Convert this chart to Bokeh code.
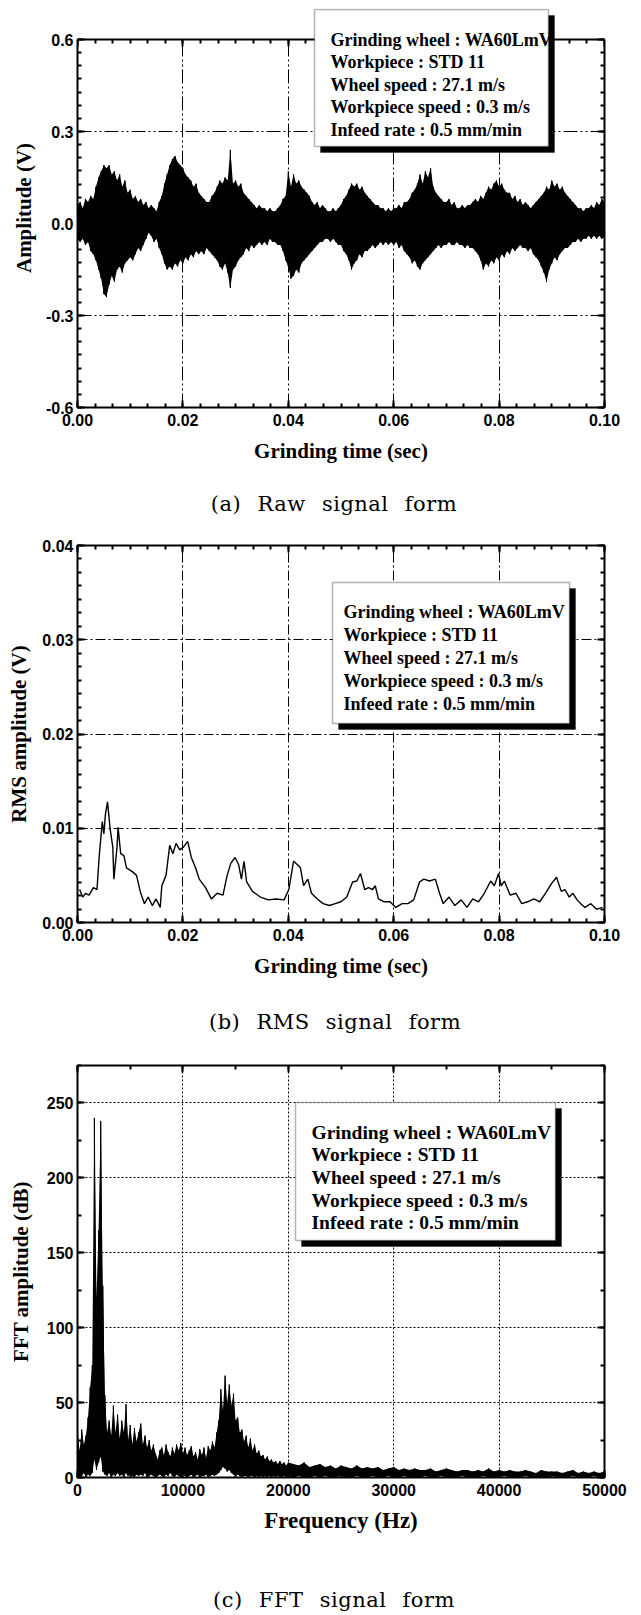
from bokeh.plotting import figure
from bokeh.models import (LinearAxis, SingleIntervalTicker, NumeralTickFormatter,
                          BoxAnnotation, Label, Range1d, Div)
from bokeh.layouts import column
from bokeh.embed import file_html
from bokeh.resources import INLINE

# ---------------- data ----------------
legend_lines = [
    "Grinding wheel : WA60LmV",
    "Workpiece : STD 11",
    "Wheel speed : 27.1 m/s",
    "Workpiece speed : 0.3 m/s",
    "Infeed rate : 0.5 mm/min",
]
captions = ["(a) Raw signal form", "(b) RMS signal form", "(c) FFT signal form"]

# (a) raw signal: envelope read every 0.5 ms (V)
raw_step = 0.0005
raw_upper = [
    0.06, 0.07, 0.05, 0.08, 0.07, 0.09, 0.08, 0.12, 0.15, 0.17,
    0.19, 0.18, 0.19, 0.16, 0.17, 0.14, 0.16, 0.12, 0.14, 0.10,
    0.11, 0.08, 0.09, 0.07, 0.08, 0.06, 0.07, 0.05, 0.06, 0.05,
    0.04, 0.07, 0.09, 0.13, 0.16, 0.19, 0.21, 0.22, 0.20, 0.19,
    0.18, 0.16, 0.15, 0.14, 0.12, 0.13, 0.10, 0.09, 0.08, 0.07,
    0.07, 0.09, 0.10, 0.12, 0.14, 0.13, 0.15, 0.14, 0.24, 0.13,
    0.14, 0.12, 0.13, 0.10, 0.09, 0.08, 0.07, 0.06, 0.05, 0.06,
    0.05, 0.05, 0.04, 0.05, 0.04, 0.04, 0.05, 0.06, 0.08, 0.09,
    0.17, 0.12, 0.16, 0.13, 0.14, 0.12, 0.11, 0.10, 0.09, 0.07,
    0.06, 0.07, 0.05, 0.06, 0.05, 0.04, 0.04, 0.05, 0.04, 0.05,
    0.06, 0.08, 0.09, 0.11, 0.13, 0.12, 0.13, 0.11, 0.12, 0.10,
    0.09, 0.08, 0.07, 0.06, 0.06, 0.05, 0.05, 0.04, 0.05, 0.04,
    0.05, 0.05, 0.06, 0.05, 0.07, 0.07, 0.08, 0.10, 0.11, 0.13,
    0.16, 0.13, 0.17, 0.15, 0.18, 0.12, 0.10, 0.09, 0.08, 0.07,
    0.07, 0.08, 0.06, 0.07, 0.05, 0.05, 0.06, 0.05, 0.06, 0.06,
    0.07, 0.08, 0.07, 0.09, 0.08, 0.10, 0.12, 0.11, 0.13, 0.14,
    0.12, 0.13, 0.11, 0.10, 0.10, 0.08, 0.09, 0.07, 0.08, 0.06,
    0.07, 0.06, 0.05, 0.06, 0.07, 0.08, 0.09, 0.10, 0.12, 0.11,
    0.14, 0.12, 0.13, 0.11, 0.12, 0.10, 0.09, 0.08, 0.07, 0.06,
    0.05, 0.05, 0.04, 0.05, 0.05, 0.06, 0.05, 0.07, 0.06, 0.08,
    0.07,
]
raw_lower = [
    -0.05, -0.06, -0.05, -0.07, -0.06, -0.09, -0.10, -0.12, -0.15, -0.18,
    -0.23, -0.24, -0.20, -0.17, -0.19, -0.15, -0.14, -0.16, -0.13, -0.12,
    -0.11, -0.12, -0.10, -0.08, -0.09, -0.07, -0.05, -0.03, -0.04, -0.06,
    -0.05, -0.08, -0.10, -0.13, -0.15, -0.14, -0.15, -0.13, -0.14, -0.12,
    -0.13, -0.11, -0.12, -0.10, -0.11, -0.09, -0.10, -0.09, -0.10, -0.08,
    -0.09, -0.10, -0.11, -0.12, -0.14, -0.15, -0.13, -0.16, -0.21, -0.15,
    -0.14, -0.12, -0.11, -0.10, -0.08, -0.09, -0.07, -0.08, -0.07, -0.06,
    -0.07, -0.06, -0.07, -0.05, -0.06, -0.06, -0.07, -0.07, -0.09, -0.12,
    -0.14, -0.18, -0.17, -0.15, -0.16, -0.13, -0.12, -0.11, -0.10, -0.09,
    -0.08, -0.07, -0.06, -0.06, -0.05, -0.05, -0.06, -0.05, -0.06, -0.07,
    -0.07, -0.09, -0.10, -0.12, -0.15, -0.13, -0.12, -0.10, -0.11, -0.09,
    -0.09, -0.08, -0.07, -0.08, -0.07, -0.06, -0.07, -0.06, -0.07, -0.06,
    -0.07, -0.06, -0.08, -0.07, -0.09, -0.10, -0.11, -0.13, -0.12, -0.14,
    -0.15, -0.13, -0.12, -0.11, -0.10, -0.09, -0.08, -0.07, -0.08, -0.07,
    -0.07, -0.06, -0.07, -0.07, -0.06, -0.07, -0.07, -0.08, -0.07, -0.08,
    -0.08, -0.09, -0.10, -0.12, -0.15, -0.13, -0.14, -0.12, -0.13, -0.11,
    -0.12, -0.10, -0.11, -0.09, -0.10, -0.08, -0.09, -0.08, -0.07, -0.08,
    -0.08, -0.09, -0.08, -0.10, -0.11, -0.12, -0.14, -0.16, -0.19, -0.15,
    -0.13, -0.11, -0.12, -0.10, -0.09, -0.08, -0.08, -0.07, -0.06, -0.06,
    -0.05, -0.06, -0.05, -0.05, -0.04, -0.05, -0.04, -0.05, -0.04, -0.05,
    -0.04,
]
raw_time = [i * raw_step for i in range(len(raw_upper))]

# (b) RMS signal
rms_time = [
    0.0004, 0.0010, 0.0015, 0.0022, 0.0030, 0.0037, 0.0041, 0.0047, 0.0050, 0.0053,
    0.0057, 0.0062, 0.0067, 0.0069, 0.0075, 0.0077, 0.0082, 0.0088, 0.0093, 0.0104,
    0.0112, 0.0119, 0.0127, 0.0134, 0.0142, 0.0149, 0.0157, 0.0160, 0.0168, 0.0175,
    0.0181, 0.0187, 0.0194, 0.0201, 0.0209, 0.0216, 0.0224, 0.0231, 0.0243, 0.0254,
    0.0265, 0.0276, 0.0284, 0.0291, 0.0299, 0.0306, 0.0311, 0.0316, 0.0321, 0.0332,
    0.0347, 0.0362, 0.0377, 0.0392, 0.0401, 0.0410, 0.0418, 0.0423, 0.0429, 0.0437,
    0.0444, 0.0455, 0.0466, 0.0478, 0.0489, 0.0500, 0.0511, 0.0522, 0.0530, 0.0537,
    0.0545, 0.0552, 0.0560, 0.0565, 0.0571, 0.0582, 0.0593, 0.0604, 0.0616, 0.0627,
    0.0638, 0.0649, 0.0657, 0.0668, 0.0679, 0.0687, 0.0694, 0.0705, 0.0716, 0.0728,
    0.0739, 0.0750, 0.0761, 0.0772, 0.0784, 0.0791, 0.0799, 0.0804, 0.0810, 0.0821,
    0.0832, 0.0843, 0.0854, 0.0866, 0.0877, 0.0888, 0.0899, 0.0909, 0.0918, 0.0925,
    0.0933, 0.0940, 0.0948, 0.0955, 0.0963, 0.0974, 0.0985, 0.0996,
]
rms_amp = [
    0.0035, 0.0027, 0.0031, 0.0029, 0.0037, 0.0035, 0.0069, 0.0107, 0.0094, 0.0115,
    0.0128, 0.0099, 0.0080, 0.0046, 0.0080, 0.0101, 0.0073, 0.0071, 0.0058, 0.0054,
    0.0050, 0.0033, 0.0020, 0.0027, 0.0018, 0.0025, 0.0016, 0.0039, 0.0050, 0.0082,
    0.0073, 0.0084, 0.0077, 0.0080, 0.0086, 0.0069, 0.0058, 0.0046, 0.0037, 0.0025,
    0.0031, 0.0029, 0.0050, 0.0063, 0.0069, 0.0061, 0.0046, 0.0065, 0.0043, 0.0033,
    0.0027, 0.0024, 0.0025, 0.0024, 0.0035, 0.0065, 0.0061, 0.0058, 0.0039, 0.0046,
    0.0031, 0.0025, 0.0020, 0.0018, 0.0020, 0.0022, 0.0027, 0.0043, 0.0044, 0.0052,
    0.0035, 0.0037, 0.0035, 0.0039, 0.0025, 0.0022, 0.0022, 0.0016, 0.0020, 0.0020,
    0.0024, 0.0043, 0.0046, 0.0044, 0.0046, 0.0031, 0.0020, 0.0027, 0.0018, 0.0024,
    0.0016, 0.0025, 0.0022, 0.0031, 0.0044, 0.0039, 0.0052, 0.0039, 0.0044, 0.0029,
    0.0031, 0.0020, 0.0022, 0.0025, 0.0022, 0.0031, 0.0041, 0.0048, 0.0033, 0.0035,
    0.0027, 0.0031, 0.0024, 0.0020, 0.0016, 0.0020, 0.0014, 0.0016,
]

# (c) FFT spectrum envelope: 200 Hz steps to 20 kHz, then 500 Hz steps (dB)
fft_upper = [
    30, 18, 32, 22, 28, 40, 60, 75, 240, 120,
    165, 238, 128, 55, 30, 38, 28, 48, 30, 42,
    26, 38, 30, 49, 25, 35, 22, 33, 24, 30,
    36, 22, 28, 20, 25, 18, 22, 16, 12, 18,
    20, 15, 22, 17, 14, 20, 16, 22, 18, 23,
    16, 20, 15, 18, 21, 14, 17, 12, 19, 15,
    20, 13, 21, 18, 24, 20, 30, 38, 59, 45,
    68, 50, 62, 48, 56, 38, 40, 30, 32, 24,
    28, 20, 26, 18, 22, 16, 18, 14, 15, 12,
    14, 11, 12, 10, 11, 9, 11, 9, 10, 8,
    10,
    9, 8, 10, 7, 8, 9, 7, 8, 6, 8,
    7, 6, 8, 6, 7, 6, 7, 5, 6, 7,
    5, 6, 5, 6, 5, 5, 6, 4, 5, 6,
    5, 4, 5, 5, 4, 5, 4, 6, 4, 5,
    4, 5, 4, 4, 5, 4, 3, 5, 4, 4,
    4, 3, 4, 5, 3, 4, 3, 4, 3, 4,
]
fft_lower = [
    2, 0, 1, 3, 0, 2, 1, 3, 12, 5,
    10, 14, 4, 2, 1, 3, 0, 2, 1, 3,
    1, 2, 0, 3, 1, 2, 1, 0, 2, 1,
    2, 1, 3, 0, 1, 2, 1, 0, 1, 2,
    1, 0, 2, 1, 3, 1, 0, 2, 1, 0,
    2, 1, 0, 1, 2, 0, 1, 2, 0, 1,
    1, 2, 0, 1, 2, 1, 2, 3, 5, 7,
    6, 4, 5, 3, 2, 1, 2, 1, 0, 1,
    1, 0, 1, 1, 0, 1, 0, 1, 0, 1,
    0, 1, 0, 1, 0, 1, 0, 0, 1, 0,
    1,
    0, 1, 0, 0, 1, 0, 1, 0, 0, 1,
    0, 0, 1, 0, 0, 1, 0, 0, 1, 0,
    0, 1, 0, 0, 0, 1, 0, 0, 1, 0,
    0, 0, 1, 0, 0, 0, 1, 0, 0, 0,
    1, 0, 0, 0, 1, 0, 0, 0, 0, 1,
    0, 0, 0, 1, 0, 0, 0, 1, 0, 0,
]
fft_freq = [i * 200 for i in range(101)] + [20000 + 500 * (i + 1) for i in range(60)]

# ---------------- helpers ----------------
W = 638


def make_fig(h, xr, yr, bl, br, bt, bb, outline=True):
    p = figure(width=W, height=h, x_range=Range1d(*xr), y_range=Range1d(*yr),
               output_backend="svg", toolbar_location=None,
               min_border_left=bl, min_border_right=br,
               min_border_top=bt, min_border_bottom=bb)
    p.outline_line_color = "black" if outline else None
    p.outline_line_width = 2
    p.background_fill_color = "white"
    p.border_fill_color = "white"
    return p


def dress_axis(ax, ticker, fmt, label=None, label_size="21px", standoff=8,
               show=True, tick_standoff=5, line=False):
    ax.ticker = ticker
    ax.formatter = NumeralTickFormatter(format=fmt)
    ax.axis_line_color = "black" if line else None
    ax.axis_line_width = 2
    ax.major_tick_in = 7
    ax.major_tick_out = 0
    ax.minor_tick_in = 4
    ax.minor_tick_out = 0
    ax.major_tick_line_color = "black"
    ax.major_tick_line_width = 2
    ax.minor_tick_line_color = "black"
    ax.minor_tick_line_width = 2
    if show:
        ax.major_label_text_font = "Liberation Sans"
        ax.major_label_text_font_style = "bold"
        ax.major_label_text_font_size = "16px"
        ax.major_label_text_color = "black"
        ax.major_label_standoff = tick_standoff
        ax.axis_label = label
        ax.axis_label_text_font = "Liberation Serif"
        ax.axis_label_text_font_style = "bold"
        ax.axis_label_text_font_size = label_size
        ax.axis_label_text_color = "black"
        ax.axis_label_standoff = standoff
    else:
        ax.major_label_text_font_size = "0px"
        ax.major_label_text_color = None
        ax.major_label_standoff = 0


def setup(p, xint, xminor, yint, yminor, xfmt, yfmt, xlabel, ylabel,
          xstand, ystand, dash, xsize="21px", ysize="21px",
          line=False, ybounds=None, top_at=None):
    xt = SingleIntervalTicker(interval=xint, num_minor_ticks=xminor)
    yt = SingleIntervalTicker(interval=yint, num_minor_ticks=yminor)
    dress_axis(p.xaxis[0], xt, xfmt, xlabel, xsize, xstand, tick_standoff=6, line=line)
    dress_axis(p.yaxis[0], yt, yfmt, ylabel, ysize, ystand, tick_standoff=4, line=line)
    top = LinearAxis()
    dress_axis(top, SingleIntervalTicker(interval=xint, num_minor_ticks=xminor), xfmt,
               show=False, line=line)
    right = LinearAxis()
    dress_axis(right, SingleIntervalTicker(interval=yint, num_minor_ticks=yminor), yfmt,
               show=False, line=line)
    if ybounds is not None:
        p.yaxis[0].bounds = ybounds
        right.bounds = ybounds
    if top_at is not None:
        top.fixed_location = top_at
    p.add_layout(top, "above")
    p.add_layout(right, "right")
    p.xgrid.ticker = xt
    p.ygrid.ticker = yt
    for g in (p.xgrid, p.ygrid):
        g.grid_line_color = "black"
        g.grid_line_width = 1
        g.grid_line_dash = dash


def add_legend(p, left, right, top, bottom, tx, baselines, size):
    p.add_layout(BoxAnnotation(left=left + 6, right=right + 6, top=top + 6, bottom=bottom + 6,
                               left_units="canvas", right_units="canvas",
                               top_units="canvas", bottom_units="canvas",
                               fill_color="black", fill_alpha=1.0, line_color="black"))
    p.add_layout(BoxAnnotation(left=left, right=right, top=top, bottom=bottom,
                               left_units="canvas", right_units="canvas",
                               top_units="canvas", bottom_units="canvas",
                               fill_color="white", fill_alpha=1.0,
                               line_color="black", line_width=1.5))
    for line, by in zip(legend_lines, baselines):
        p.add_layout(Label(x=tx, y=by, x_units="canvas", y_units="canvas", text=line,
                           text_font="Liberation Serif", text_font_style="bold",
                           text_font_size=size, text_color="black",
                           text_align="left", text_baseline="alphabetic"))


def caption_div(text, height, center_x):
    pad = 2 * center_x - W
    html = ('<div style="width:%dpx;height:%dpx;line-height:%dpx;box-sizing:border-box;'
            'padding-left:%dpx;text-align:center;font-family:\'DejaVu Serif\';'
            'font-size:21px;letter-spacing:0.5px;word-spacing:9px;color:black;'
            'white-space:nowrap;">%s</div>'
            % (W, height, height, pad, text))
    return Div(text=html, width=W, height=height, margin=0)


def zigzag(xs, up, lo):
    zx, zy = [], []
    for x, u, l in zip(xs, up, lo):
        zx += [x, x]
        zy += [l, u]
    return zx, zy


# ---------------- (a) raw ----------------
# frame spans page y 8..407; the drawn axes box is -0.6..0.6 (368 px)
y_top_a = 0.6 + 31 * 1.2 / 368
p1 = make_fig(484, (0, 0.1), (-0.6, y_top_a), 72, 30, 8, 77, outline=False)
setup(p1, 0.02, 6, 0.3, 7, "0.00", "0.0", "Grinding time (sec)", "Amplitude (V)",
      10, 7, "14 3 2 3 2 3", line=True, ybounds=(-0.6, 0.6), top_at=0.6)
p1.add_layout(BoxAnnotation(bottom=0.6, fill_color="white", fill_alpha=1.0,
                            line_color=None, level="underlay"))
p1.varea(x=raw_time, y1=raw_lower, y2=raw_upper, fill_color="black")
zx, zy = zigzag(raw_time, raw_upper, raw_lower)
p1.line(zx, zy, line_color="black", line_width=1)
add_legend(p1, 314, 548, 9, 146, 330, [39, 61.5, 84, 106.5, 129], "18px")

# ---------------- (b) RMS ----------------
p2 = make_fig(478, (0, 0.1), (0, 0.04), 77, 15, 21, 80)
setup(p2, 0.02, 6, 0.01, 7, "0.00", "0.00", "Grinding time (sec)", "RMS amplitude (V)",
      10, 8, "10 3 2 3")
p2.line(rms_time, rms_amp, line_color="black", line_width=1.4)
add_legend(p2, 332, 569, 58, 199, 343, [87, 110, 133, 156, 179], "18px")

# ---------------- (c) FFT ----------------
p3 = make_fig(544, (0, 50000), (0, 275), 76, 34, 23, 109)
setup(p3, 10000, 2, 50, 2, "0", "0", "Frequency (Hz)", "FFT amplitude (dB)",
      9, 11, "2 2", xsize="23px", ysize="21px")
p3.varea(x=fft_freq, y1=fft_lower, y2=fft_upper, fill_color="black")
zx, zy = zigzag(fft_freq, fft_upper, fft_lower)
p3.line(zx, zy, line_color="black", line_width=1)
add_legend(p3, 295, 555, 60, 198, 311, [90, 112, 135, 158, 180], "19.5px")

layout = column(p1, caption_div(captions[0], 40, 334),
                p2, caption_div(captions[1], 40, 335),
                p3, caption_div(captions[2], 29, 334), spacing=0)
open("out.html", "w").write(file_html(layout, INLINE))
